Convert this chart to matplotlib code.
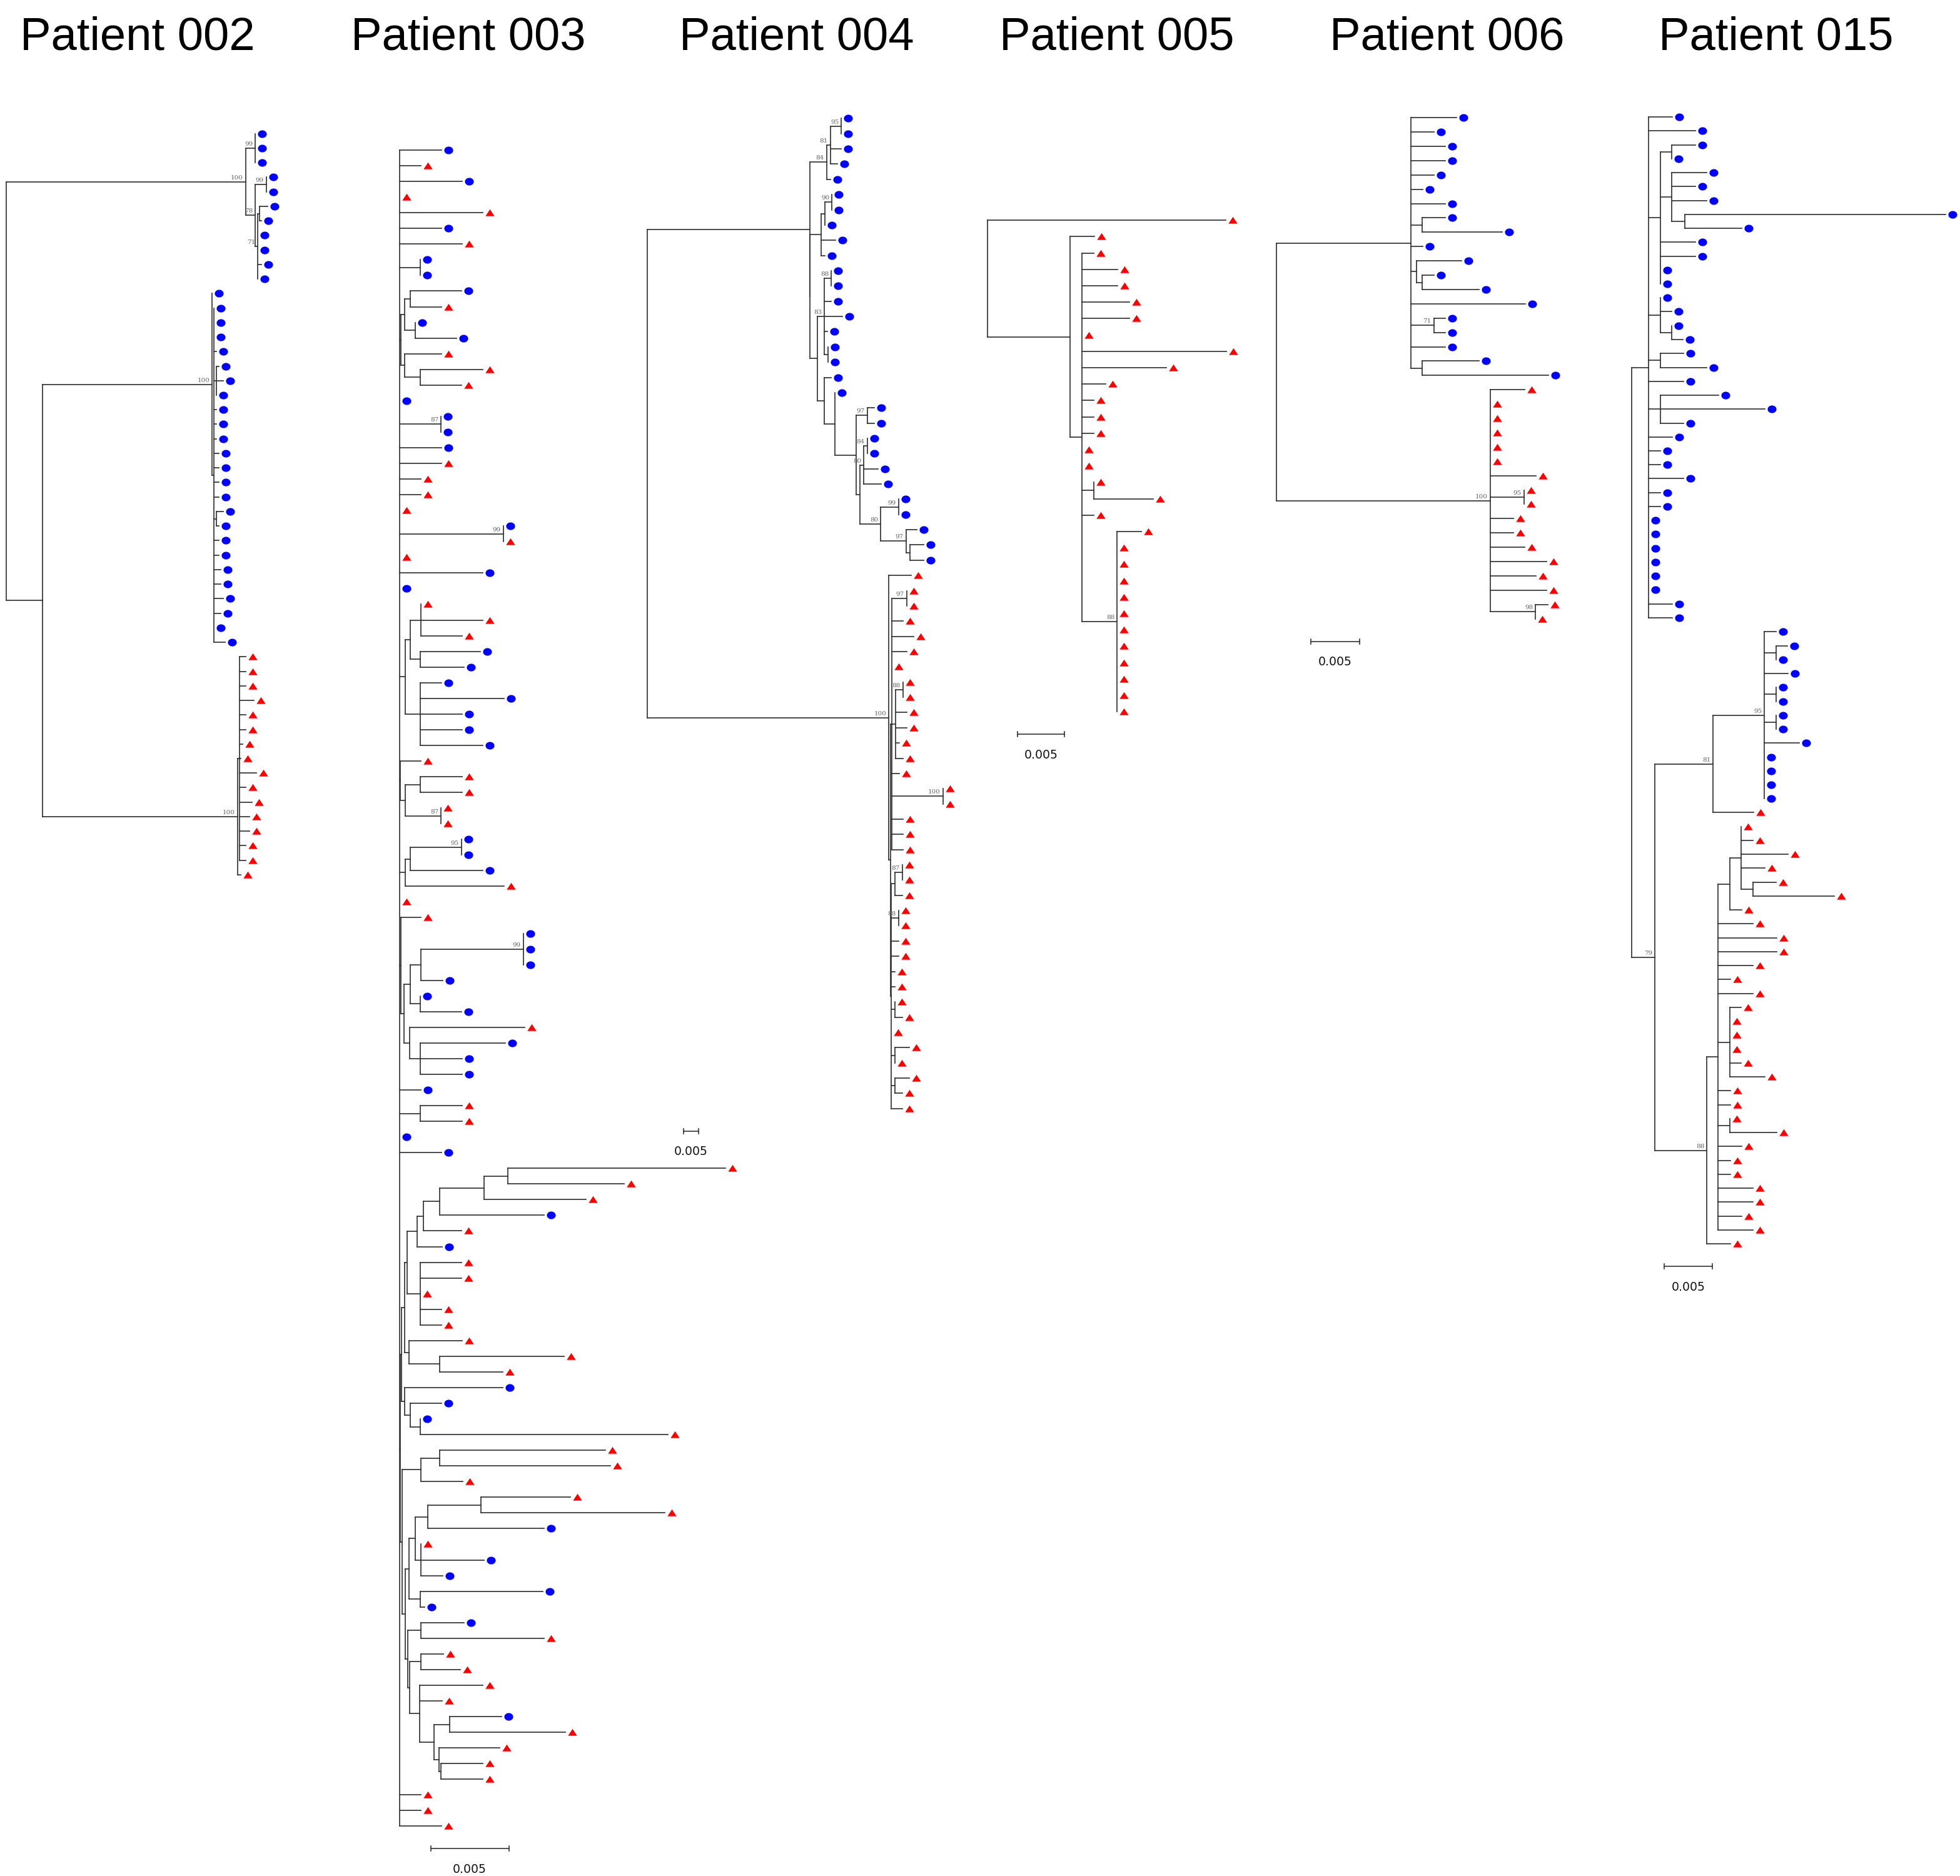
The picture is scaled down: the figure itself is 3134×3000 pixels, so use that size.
#!/usr/bin/env python3
"""
plot.py

Six maximum-likelihood trees (one per patient) drawn side by side.
Tips are coded b (blue circle) / r (red triangle); internal labels are
bootstrap values. Branch lengths are in units of 0.001 substitutions/site.
"""

import numpy as np
import matplotlib

matplotlib.use("Agg")
import matplotlib.pyplot as plt
from matplotlib.collections import LineCollection
from matplotlib.transforms import offset_copy

# ---------------------------------------------------------------- data
PATIENTS = ["Patient 002", "Patient 003", "Patient 004",
            "Patient 005", "Patient 006", "Patient 015"]

TREE_002 = (
    "(((b:0,b:0,b:0)99:3.26,((b:0,b:0)99:3.7,((b:2.8,b:0.7):0.56,b:0,b:0,b:1.25,b:0)71:0.83)78:3.26)100:79.7,"
    "((b:0,(b:0,b:0,b:0,b:0.9,(b:0.83,b:2.3,b:0):0.83,b:0.9,b:0.9,b:0.9,b:1.7,b:1.7,b:1.7,b:1.7,"
    "(b:2.3,b:0.83):0.83,b:1.7,b:1.7,b:2.4,b:2.4,b:3.1,b:2.4,b:0,b:3.8):0.55)100:56.5,"
    "((r:1.9,r:1.9,r:1.9,r:4.7,r:1.9,r:1.9,r:1.0,r:0.35,r:5.5,r:1.9,r:4.1,r:3.3,r:3.3,r:1.9,r:1.9):0.7,"
    "r:1.0)100:65.0):12.1)"
)

TREE_003 = (
    "(b:2.7,r:1.37,b:4.0,r:0,r:5.33,b:2.7,r:4.0,(b:0,b:0):1.33,"
    "(((b:3.31,r:2.0):0.33,(b:0,b:2.64):0.67):0.24,(r:2.33,(r:4.0,r:2.64):0.97):0.24):0.11,"
    "b:0,(b:0,b:0)87:2.66,b:2.69,r:2.69,r:1.37,r:1.37,r:0,(b:0,r:0)99:6.64,r:0,b:5.33,b:0,"
    "(((r:0,r:3.96,r:2.63):0.69,(b:3.86,b:2.79):0.64):0.33,(b:1.36,b:5.36,b:2.67,b:2.67,b:4.0):0.97):0.36,"
    "(r:1.33,((r:2.67,r:2.67):0.97,(r:0,r:0)87:2.3):0.31):0.05,"
    "(((b:0,b:0)95:3.29,b:4.64):0.33,r:6.33):0.36,r:0,"
    "(r:1.26,((((b:0,b:0,b:0)99:6.56,b:1.39):0.69,(b:0,b:2.64):0.64):0.39,"
    "(r:7.36,(b:5.46,b:2.67,b:2.67):0.67):0.36):0.19):0.11,"
    "b:1.37,(r:2.67,r:2.67):1.33,b:0,b:2.69,"
    "(((((((((r:13.93,r:7.47):1.5,r:6.5):2.83,b:6.66):1.06,r:2.43):0.41,b:1.63):0.63,"
    "(r:2.64,r:2.64,r:0,r:1.36,r:1.36):0.83):0.17,(r:3.4,(r:7.97,r:4.04):1.93):0.31):0.17,"
    "(b:6.26,(b:2.0,(b:0,r:15.86):0.64):0.33):0.2):0.1,"
    "(((r:10.6,r:10.9):1.23,r:2.69):1.17,"
    "(((((r:5.7,r:11.74):3.4,b:7.43):0.8,(r:0,b:4.03,b:1.39):0.34):0.41,(b:7.86,b:0.3):0.71):0.26,"
    "((b:2.76,r:7.9):0.84,((r:1.47,r:2.54):0.71,(r:4.04,r:1.44,((b:3.31,r:7.39):1.03,"
    "(r:3.86,(r:2.7,r:2.7):0.1):0.34):0.91):0.64):0.13):0.16):0.17):0.14):0.05,"
    "r:1.37,r:1.37,r:2.69)"
)

TREE_004 = (
    "(((((b:0,b:0)95:3.6,b:3.6,b:2.35)81:1.24,b:1.17)84:5.67,"
    "((((b:0,b:0)90:2.4,b:0):1.2,b:4.77,b:1.17):3.7,"
    "(((b:0,b:0)88:2.3,b:2.3,b:5.9,b:1.0,(b:0,b:0):1.17)83:2.4,"
    "(b:2.3,(b:0,((b:2.3,b:2.3)97:3.7,(((b:0,b:0)84:1.17,b:4.7,b:5.9)80:1.25,"
    "((b:0,b:0)99:5.94,(b:3.45,(b:4.7,b:4.7):1.17)97:8.5)80:6.9):1.3):7.1):3.45):2.4):2.4):0.1):54.1,"
    "(r:7.4,(((r:0,r:0)97:4.84,r:3.66,r:7.26,r:4.84,r:0,((r:0,r:0)88:2.4,r:3.6,r:3.6,r:1.2,r:2.4):1.24,"
    "r:2.5,(r:0,r:0)100:16.9,r:3.66,r:3.66,r:3.66):0.54,"
    "(((r:0,r:0)87:2.4,r:2.4):1.24,(r:0,r:0)88:2.4,r:2.5,r:2.5,r:1.24,r:1.24,(r:0,r:2.4):1.24,r:0,"
    "(r:4.7,r:0):1.24,(r:4.7,r:2.4):1.24,r:3.66):0.33):0.5)100:80.5)"
)

TREE_005 = (
    "(r:25.4,(r:2.58,(r:1.29,r:3.8,r:3.8,r:5.1,r:5.1,r:0,r:15.4,r:9.0,r:2.56,r:1.29,r:1.29,r:1.29,"
    "r:0,r:0,(r:0,r:6.38):1.27,r:1.29,"
    "(r:2.6,r:0,r:0,r:0,r:0,r:0,r:0,r:0,r:0,r:0,r:0,r:0)88:3.78):1.24):8.8)"
)

TREE_006 = (
    "((b:4.64,b:2.35,b:3.53,b:3.53,b:2.35,b:1.18,b:3.53,(b:2.37,b:8.2):1.15,b:1.18,"
    "(b:4.64,(b:1.2,b:5.81):0.62):0.53,b:11.7,(b:1.2,b:1.2)71:2.33,b:3.53,(b:5.83,b:12.95):1.15):13.8,"
    "(r:3.53,r:0,r:0,r:0,r:0,r:0,r:4.7,(r:0,r:0)95:3.48,r:2.37,r:2.37,r:3.53,r:5.8,r:4.7,r:5.8,"
    "(r:1.24,r:0)98:4.66)100:21.9)"
)

TREE_015 = (
    "((b:2.41,b:4.78,((b:2.41,b:0):1.18,(b:3.62,b:2.41,b:3.62,(b:26.9,b:5.88):1.32):1.18,"
    "b:3.6,b:3.6,b:0,b:0):1.18,(b:0,b:1.2,(b:0,b:1.18):1.18):1.18,(b:2.39,b:4.8):1.18,b:3.57,"
    "(b:6.0,b:10.77,b:2.39):1.18,b:2.41,b:1.18,b:1.18,b:3.57,b:1.18,b:1.18,"
    "b:0,b:0,b:0,b:0,b:0,b:0,b:2.41,b:2.41):1.8,"
    "(((b:1.2,(b:1.18,b:0):1.2,b:2.39,(b:0,b:0):1.2,(b:0,b:0):1.2,b:3.57,b:0,b:0,b:0,b:0)95:5.3,"
    "r:4.19)81:6.0,"
    "((((r:0,r:1.25,r:4.8,r:2.43,(r:2.43,r:8.42):1.2):1.18,r:1.27):1.18,r:3.6,r:6.0,r:6.0,r:3.6,"
    "r:1.25,r:3.6,(r:1.2,r:0,r:0,r:0,r:1.2,r:3.6):1.18,r:1.25,r:1.25,(r:0,r:4.85):1.18,"
    "r:2.43,r:1.25,r:1.25,r:3.6,r:3.6,r:2.4,r:3.6):1.16,r:2.41)88:5.37)79:2.41)"
)

TREES = [TREE_002, TREE_003, TREE_004, TREE_005, TREE_006, TREE_015]
SCALE_LENGTH = 5.0  # 0.005 substitutions/site
SCALE_TEXT = "0.005"

# ---------------------------------------------------------------- layout (pixels)
W, H = 3134, 3000
# root x, px per 0.001, first tip y, tip spacing, scale bar start (units), title x
LAYOUT = [
    dict(root=10, ppu=4.8, top=213.7, step=23.24, bar=None, title=220),
    dict(root=638.6, ppu=25.0, top=240.0, step=25.05, bar=2.0, title=749),
    dict(root=1035, ppu=4.8, top=189.4, step=24.36, bar=12.0, title=1274),
    dict(root=1579, ppu=15.0, top=352.2, step=26.2, bar=3.2, title=1786),
    dict(root=2041, ppu=15.6, top=188.2, step=22.9, bar=3.5, title=2314),
    dict(root=2608.5, ppu=15.53, top=187.0, step=22.25, bar=3.35, title=2840),
]

LINE_COLOR = "#333333"
BLUE = "#0000ff"
RED = "#ff0000"


def parse_newick(s):
    s = s.replace(" ", "").rstrip(";")
    pos = 0

    def node():
        nonlocal pos
        nd = {"children": [], "name": "", "label": "", "length": 0.0}
        if s[pos] == "(":
            pos += 1
            while True:
                nd["children"].append(node())
                if s[pos] == ",":
                    pos += 1
                    continue
                pos += 1  # closing bracket
                break
        start = pos
        while pos < len(s) and s[pos] not in ",):":
            pos += 1
        text = s[start:pos]
        if nd["children"]:
            nd["label"] = text
        else:
            nd["name"] = text
        if pos < len(s) and s[pos] == ":":
            pos += 1
            start = pos
            while pos < len(s) and s[pos] not in ",)":
                pos += 1
            nd["length"] = float(s[start:pos])
        return nd

    return node()


def place(root):
    """Give every node an x (distance from root) and a y (tip order)."""
    tips = []

    def walk(nd, x):
        nd["x"] = x + nd["length"]
        if nd["children"]:
            for c in nd["children"]:
                walk(c, nd["x"])
            nd["y"] = (nd["children"][0]["y"] + nd["children"][-1]["y"]) / 2.0
        else:
            nd["y"] = len(tips)
            tips.append(nd)

    root["length"] = 0.0
    walk(root, 0.0)
    return tips


def internal_nodes(nd):
    if nd["children"]:
        yield nd
        for c in nd["children"]:
            yield from internal_nodes(c)


# marker shapes
t = np.linspace(0, 2 * np.pi, 41)
ELLIPSE = list(zip(np.cos(t), 0.86 * np.sin(t)))
TRIANGLE = [(-1.0, -0.72), (1.0, -0.72), (0.0, 0.8), (-1.0, -0.72)]

fig = plt.figure(figsize=(W / 100, H / 100), dpi=100)
fig.patch.set_facecolor("white")

for name, tree, lay in zip(PATIENTS, TREES, LAYOUT):
    root = parse_newick(tree)
    tips = place(root)
    n = len(tips)
    print(name, n, "tips")

    ppu, step = lay["ppu"], lay["step"]
    ax = fig.add_axes([0, 0, 1, 1])
    ax.set_xlim(-lay["root"] / ppu, (W - lay["root"]) / ppu)
    ax.set_ylim((H - lay["top"]) / step, -lay["top"] / step)
    ax.axis("off")

    segs = []
    for nd in internal_nodes(root):
        ch = nd["children"]
        segs.append([(nd["x"], ch[0]["y"]), (nd["x"], ch[-1]["y"])])
        for c in ch:
            segs.append([(nd["x"], c["y"]), (c["x"], c["y"])])
    ax.add_collection(LineCollection(segs, colors=LINE_COLOR, linewidths=1.25,
                                     capstyle="projecting"))

    # tip symbols sit just right of the branch end
    tip_tr = offset_copy(ax.transData, fig=fig, x=11, y=0, units="dots")
    bx = [tp["x"] for tp in tips if tp["name"] == "b"]
    by = [tp["y"] for tp in tips if tp["name"] == "b"]
    rx = [tp["x"] for tp in tips if tp["name"] == "r"]
    ry = [tp["y"] for tp in tips if tp["name"] == "r"]
    ax.plot(bx, by, ls="none", marker=ELLIPSE, ms=10.2, mfc=BLUE, mec=BLUE,
            mew=0, transform=tip_tr, zorder=3)
    ax.plot(rx, ry, ls="none", marker=TRIANGLE, ms=10.4, mfc=RED, mec=RED,
            mew=0, transform=tip_tr, zorder=3)

    # bootstrap support
    lab_tr = offset_copy(ax.transData, fig=fig, x=-4, y=2, units="dots")
    for nd in internal_nodes(root):
        if nd["label"]:
            ax.text(nd["x"], nd["y"], nd["label"], transform=lab_tr,
                    ha="right", va="bottom", fontsize=7.5, family="DejaVu Serif",
                    color="#666666")

    # scale bar
    if lay["bar"] is not None:
        y_bar = (n - 1) + 36.0 / step
        tick = 4.0 / step
        x0, x1 = lay["bar"], lay["bar"] + SCALE_LENGTH
        ax.plot([x0, x1], [y_bar, y_bar], color=LINE_COLOR, lw=1.2)
        ax.plot([x0, x0], [y_bar - tick, y_bar + tick], color=LINE_COLOR, lw=1.2)
        ax.plot([x1, x1], [y_bar - tick, y_bar + tick], color=LINE_COLOR, lw=1.2)
        ax.text((x0 + x1) / 2, y_bar + 33.0 / step, SCALE_TEXT, ha="center",
                va="center", fontsize=13.6, family="DejaVu Sans", color="#111111")

    fig.text(lay["title"] / W, 1 - 80.0 / H, name, ha="center", va="baseline",
             fontsize=53.5, family="Liberation Sans", color="black")

fig.savefig("out.png", dpi=100, facecolor="white")
